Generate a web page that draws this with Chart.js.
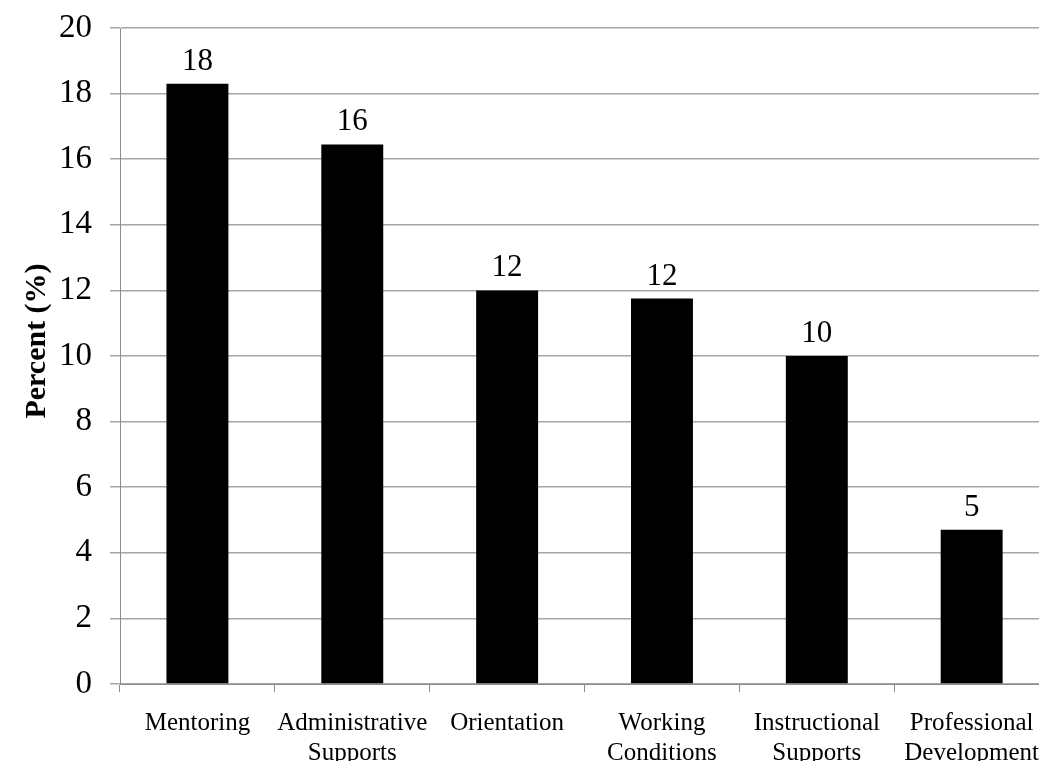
<!DOCTYPE html>
<html>
<head>
<meta charset="utf-8">
<script src="https://cdn.jsdelivr.net/npm/chart.js@4/dist/chart.umd.min.js"></script>
<style>
    html, body { margin: 0; padding: 0; overflow: hidden; background: #fff; }
    /* plot runs a little past the right edge of the window, as in the original */
    #wrap { width: 1056px; height: 761px; }
</style>
</head>
<body>
<div id="wrap"><canvas id="chart"></canvas></div>
<script>
// Chart data
const categories = [
    'Mentoring',
    ['Administrative', 'Supports'],
    'Orientation',
    ['Working', 'Conditions'],
    ['Instructional', 'Supports'],
    ['Professional', 'Development']
];
const percentValues = [18.3, 16.45, 12.0, 11.75, 10.0, 4.7];
const yTicks = [0, 2, 4, 6, 8, 10, 12, 14, 16, 18, 20];
const yTitle = 'Percent (%)';

const serif = '"Liberation Serif", "Times New Roman", serif';

// Draw rounded value above each bar, plus the y axis title
const valueLabels = {
    id: 'valueLabels',
    afterDatasetsDraw(chart) {
        const ctx = chart.ctx;
        const meta = chart.getDatasetMeta(0);
        ctx.save();
        ctx.font = '31px ' + serif;
        ctx.fillStyle = '#000';
        ctx.textAlign = 'center';
        ctx.textBaseline = 'alphabetic';
        meta.data.forEach((bar, i) => {
            ctx.fillText(String(Math.round(percentValues[i])), bar.x, bar.y - 14);
        });

        // y title, sits a little above the middle like the original
        const area = chart.chartArea;
        ctx.translate(37, (area.top + area.bottom) / 2 - 15);
        ctx.rotate(-Math.PI / 2);
        ctx.font = 'bold 30px ' + serif;
        ctx.textBaseline = 'middle';
        ctx.fillText(yTitle, 0, 0);
        ctx.restore();
    }
};

new Chart(document.getElementById('chart'), {
    type: 'bar',
    data: {
        labels: categories,
        datasets: [{
            data: percentValues,
            backgroundColor: '#000',
            borderWidth: 0,
            categoryPercentage: 1,
            barPercentage: 0.4
        }]
    },
    options: {
        responsive: true,
        maintainAspectRatio: false,
        animation: false,
        events: [],
        layout: { padding: { top: 28, left: 0, right: 0, bottom: 0 } },
        plugins: {
            legend: { display: false },
            tooltip: { enabled: false }
        },
        scales: {
            x: {
                grid: {
                    offset: true,
                    drawOnChartArea: false,
                    drawTicks: true,
                    tickLength: 8,
                    color: '#8c8c8c'
                },
                border: { color: '#8c8c8c', width: 1 },
                ticks: {
                    color: '#000',
                    padding: 17,
                    maxRotation: 0,
                    autoSkip: false,
                    font: { family: serif, size: 25, lineHeight: 1.18 }
                },
                afterFit(scale) { scale.height = 77; }
            },
            y: {
                min: 0,
                max: 20,
                afterBuildTicks(scale) {
                    scale.ticks = yTicks.map(v => ({ value: v }));
                },
                grid: {
                    color: '#a6a6a6',
                    lineWidth: 1.5,
                    tickLength: 10,
                    drawTicks: true
                },
                border: { color: '#8c8c8c', width: 1 },
                ticks: {
                    color: '#000',
                    padding: 18,
                    font: { family: serif, size: 33 }
                },
                afterFit(scale) {
                    scale.width = 120;
                    // tick padding shouldn't push the plot area down
                    scale.paddingTop = 0;
                    scale.paddingBottom = 0;
                }
            }
        }
    },
    plugins: [valueLabels]
});
</script>
</body>
</html>
